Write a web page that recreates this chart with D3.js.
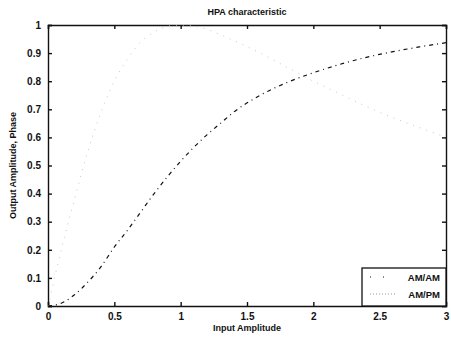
<!DOCTYPE html>
<html>
<head>
<meta charset="utf-8">
<script src="https://cdn.jsdelivr.net/npm/d3@7"></script>
<style>
  body { margin: 0; background: #fff; }
  svg text { font-family: "Liberation Sans", Arial, sans-serif; fill: #111; }
</style>
</head>
<body>
<div id="chart"></div>
<script>
// values
const inputAmp = [0, 0.1, 0.2, 0.3, 0.4, 0.5, 0.6, 0.7, 0.8, 0.9, 1.0, 1.1, 1.2, 1.3, 1.4,
                  1.6, 1.8, 2.0, 2.2, 2.4, 2.6, 2.8, 3.0]
const amAm = [0, 0.01, 0.04, 0.085, 0.14, 0.21, 0.27, 0.335, 0.40, 0.46, 0.515, 0.565, 0.61, 0.65, 0.69,
              0.75, 0.795, 0.83, 0.86, 0.885, 0.905, 0.922, 0.937]
const amPm = [0, 0.2, 0.38, 0.55, 0.69, 0.8, 0.88, 0.94, 0.975, 0.995, 1.0, 0.995, 0.985, 0.965, 0.945,
              0.9, 0.85, 0.8, 0.755, 0.71, 0.67, 0.635, 0.6]
const xTicks = [0, 0.5, 1, 1.5, 2, 2.5, 3]
const yTicks = [0, 0.1, 0.2, 0.3, 0.4, 0.5, 0.6, 0.7, 0.8, 0.9, 1]
const seriesNames = ['AM/AM', 'AM/PM']

const W = 451, H = 337
const margin = { left: 48, top: 25, right: 5, bottom: 31 }
const width = W - margin.left - margin.right
const height = H - margin.top - margin.bottom

const svg = d3.select('#chart').append('svg')
    .attr('width', W)
    .attr('height', H)

const g = svg.append('g')
    .attr('transform', 'translate(' + margin.left + ',' + margin.top + ')')

const x = d3.scaleLinear().domain([0, 3]).range([0, width])
const y = d3.scaleLinear().domain([0, 1]).range([height, 0])

// axes, matlab style: ticks pointing inward, on all four sides
const tickLen = 4
g.append('g')
    .attr('transform', 'translate(0,' + height + ')')
    .call(d3.axisBottom(x).tickValues(xTicks).tickSize(-tickLen).tickPadding(7).tickFormat(d3.format('')))
g.append('g')
    .call(d3.axisTop(x).tickValues(xTicks).tickSize(-tickLen).tickFormat(''))
g.append('g')
    .call(d3.axisLeft(y).tickValues(yTicks).tickSize(-tickLen).tickPadding(7).tickFormat(d3.format('')))
g.append('g')
    .attr('transform', 'translate(' + width + ',0)')
    .call(d3.axisRight(y).tickValues(yTicks).tickSize(-tickLen).tickFormat(''))

g.selectAll('.domain').attr('stroke', '#111').attr('stroke-width', 1.4)
g.selectAll('.tick line').attr('stroke', '#111').attr('stroke-width', 1.4)
g.selectAll('.tick text')
    .attr('font-size', 10)
    .attr('font-weight', 'bold')

// curves
const pts = (vals) => inputAmp.map((a, i) => [a, vals[i]])
const line = d3.line()
    .x(d => x(d[0]))
    .y(d => y(d[1]))
    .curve(d3.curveMonotoneX)

// the dotted AM/PM trace is barely visible on the scan
g.append('path')
    .datum(pts(amPm))
    .attr('fill', 'none')
    .attr('stroke', '#c8c8c8')
    .attr('stroke-width', 1)
    .attr('stroke-dasharray', '1,6')
    .attr('d', line)

g.append('path')
    .datum(pts(amAm))
    .attr('fill', 'none')
    .attr('stroke', '#111')
    .attr('stroke-width', 1.2)
    .attr('stroke-dasharray', '4,4,1,4')
    .attr('d', line)

// title and axis labels
svg.append('text')
    .attr('x', margin.left + width / 2)
    .attr('y', 15)
    .attr('text-anchor', 'middle')
    .attr('font-size', 9)
    .attr('font-weight', 'bold')
    .text('HPA characteristic')

svg.append('text')
    .attr('x', margin.left + width / 2)
    .attr('y', 331)
    .attr('text-anchor', 'middle')
    .attr('font-size', 9)
    .attr('font-weight', 'bold')
    .text('Input Amplitude')

svg.append('text')
    .attr('transform', 'translate(16,' + (margin.top + height / 2) + ') rotate(-90)')
    .attr('text-anchor', 'middle')
    .attr('font-size', 9)
    .attr('font-weight', 'bold')
    .text('Output Amplitude, Phase')

// legend
const legW = 84, legH = 38
const leg = g.append('g')
    .attr('transform', 'translate(' + (width - legW) + ',' + (height - legH) + ')')
leg.append('rect')
    .attr('width', legW)
    .attr('height', legH)
    .attr('fill', '#fff')
    .attr('stroke', '#111')
    .attr('stroke-width', 1.3)

const legStyles = [
    { stroke: '#111', dash: '1,12', sw: 1.2 },
    { stroke: '#999', dash: '1,2', sw: 1 }
]
seriesNames.forEach((name, i) => {
    const yy = 9 + i * 17
    leg.append('line')
        .attr('x1', 8).attr('x2', 34)
        .attr('y1', yy).attr('y2', yy)
        .attr('stroke', legStyles[i].stroke)
        .attr('stroke-width', legStyles[i].sw)
        .attr('stroke-dasharray', legStyles[i].dash)
    leg.append('text')
        .attr('x', legW - 6)
        .attr('y', yy + 3.5)
        .attr('text-anchor', 'end')
        .attr('font-size', 9.5)
        .attr('font-weight', 'bold')
        .text(name)
})
</script>
</body>
</html>
